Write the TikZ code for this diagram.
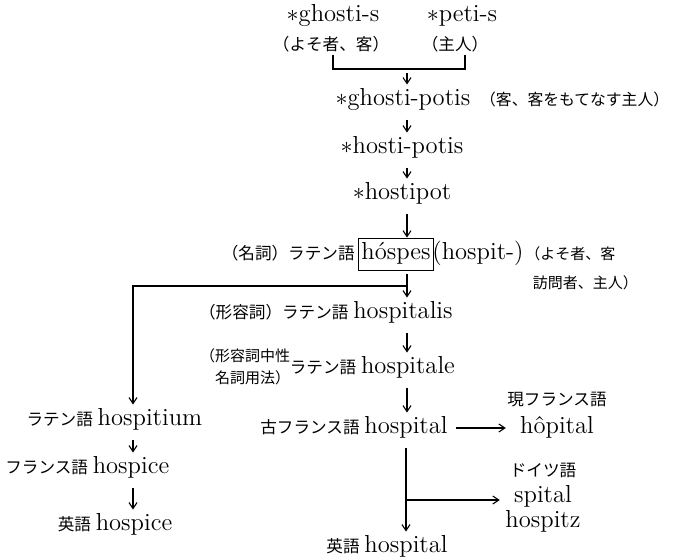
\documentclass[tikz,border=0pt]{standalone}
\usepackage{fontspec}
\newfontfamily\jpfont{Noto Sans CJK JP}
\usetikzlibrary{positioning, arrows.meta}

\begin{document}
\begin{tikzpicture}[
	x=0.5pt, y=-0.5pt,
	word/.style={font=\fontsize{12.3}{14}\selectfont, inner sep=2pt, text height=8.5pt, text depth=2.6pt},
	jp/.style={font=\jpfont\fontsize{8.3}{10}\selectfont, inner sep=1.5pt},
	gloss/.style={font=\jpfont\fontsize{7.5}{11}\selectfont, inner sep=1.5pt},
	link/.style={line width=0.55pt},
	arrow/.style={-{Straight Barb[length=3pt,width=4pt]}, line width=0.55pt, shorten <=2pt}
	]
	\useasboundingbox (0,0) rectangle (674,559);

	% Roots
	\node[word] (ghostis) at (333,16) {$\ast$ghosti-s};
	\node[jp] (ghostisj) at (331,44) {（よそ者、客）};
	\node[word] (petis) at (462,16) {$\ast$peti-s};
	\node[jp] (petisj) at (455,44) {（主人）};
	\coordinate (join) at (407,69);

	% Main line
	\node[word] (gpotis) at (403,100) {$\ast$ghosti-potis};
	\node[jp, font=\jpfont\fontsize{7.9}{10}\selectfont, inner sep=1pt, base right=1.5pt of gpotis] (gpotisj) {（客、客をもてなす主人）};
	\node[word] (hpotis) at (402,148) {$\ast$hosti-potis};
	\node[word] (hostipot) at (402,194) {$\ast$hostipot};
	\node[word, draw, minimum height=16pt, inner sep=1.5pt] (hospes) at (396,254) {hóspes};
	\node[jp, base left=0pt of hospes] (hospesj) {（名詞）ラテン語};
	\node[word, base right=-3pt of hospes] (hospit) {(hospit-)};
	\node[gloss, font=\jpfont\fontsize{7.5}{14.5}\selectfont, align=left, anchor=north west] (hospesg) at ([xshift=-3pt,yshift=-2.5pt]hospit.north east) {（よそ者、客\\\hspace{0.5em}訪問者、主人）};
	\coordinate (fork) at (407,286);
	\node[word] (hospitalis) at (403,313) {hospitalis};
	\node[jp, base left=-1.5pt of hospitalis] (hospitalisj) {（形容詞）ラテン語};
	\node[word] (hospitale) at (408,368) {hospitale};
	\node[jp, base left=-1.5pt of hospitale] (hospitalej) {ラテン語};
	\node[gloss, align=right, left=-3.5pt of hospitalej, yshift=0.5pt] (hospitaleg) {（形容詞中性\\名詞用法）};
	\node[word] (ofhospital) at (406,428) {hospital};
	\node[jp, base left=-1.5pt of ofhospital] (ofhospitalj) {古フランス語};
	\node[word] (hopital) at (557,428) {hôpital};
	\node[jp, above=1pt of hopital] (hopitalj) {現フランス語};
	\node[word] (spital) at (543,497) {spital};
	\node[word, below=-3pt of spital] (hospitz) {hospitz};
	\node[jp, above=0pt of spital] (spitalj) {ドイツ語};
	\node[word] (enhospital) at (406,547) {hospital};
	\node[jp, base left=-1.5pt of enhospital] (enhospitalj) {英語};
	\coordinate (branch) at (406,500);

	% Left branch
	\coordinate (corner) at (133,286);
	\node[word] (hospitium) at (150,420) {hospitium};
	\node[jp, base left=-1.5pt of hospitium] (hospitiumj) {ラテン語};
	\node[word] (frhospice) at (131,468) {hospice};
	\node[jp, base left=-1.5pt of frhospice] (frhospicej) {フランス語};
	\node[word] (enhospice) at (134,525) {hospice};
	\node[jp, base left=-1.5pt of enhospice] (enhospicej) {英語};

	% Arrows
	\draw[link] ([xshift=1pt]ghostisj.south) |- (join) -| ([xshift=5pt]petisj.south);
	\draw[arrow] (join) -- (join |- gpotis.north);
	\draw[arrow] (gpotis.south -| join) -- (hpotis.north -| join);
	\draw[arrow] (hpotis.south -| join) -- (hostipot.north -| join);
	\draw[arrow] (hostipot.south -| join) -- (hospes.north -| join);
	\draw[arrow] (hospes.south -| join) -- (hospitalis.north -| join);
	\draw[arrow] (hospitalis.south -| join) -- (hospitale.north -| join);
	\draw[arrow] (hospitale.south -| join) -- (ofhospital.north -| join);
	\draw[arrow, shorten >=5pt] (ofhospital.east) -- (hopital.west);
	\draw[arrow] (ofhospital.south) -- (enhospital.north);
	\draw[arrow, shorten <=0pt, shorten >=5pt] (branch) -- (branch -| spital.west);
	\draw[arrow, shorten <=0pt] (fork) -- (corner) -- (corner |- hospitium.north);
	\draw[arrow] (hospitium.south -| corner) -- (frhospice.north -| corner);
	\draw[arrow] (frhospice.south -| corner) -- (enhospice.north -| corner);

\end{tikzpicture}
\end{document}
